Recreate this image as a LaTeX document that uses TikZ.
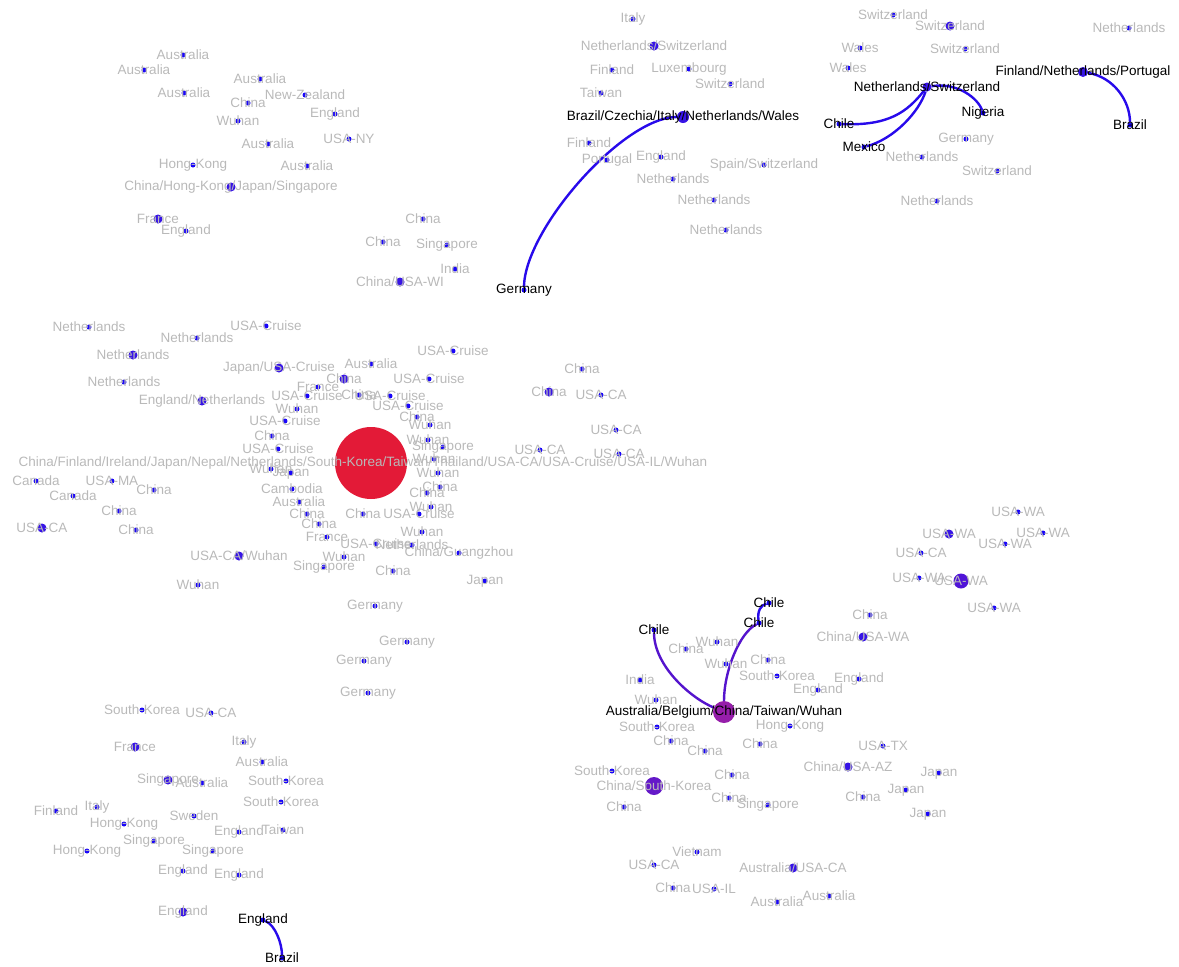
\documentclass[tikz,border=0pt]{standalone}
\usepackage{fontspec}
\setmainfont{Liberation Sans}
\usepackage{tikz}
\usetikzlibrary{backgrounds}

\definecolor{dotblue}{RGB}{25,5,250}
\definecolor{midblue}{RGB}{55,20,230}
\definecolor{hubred}{RGB}{227,26,55}
\definecolor{purpA}{RGB}{150,30,170}
\definecolor{purpB}{RGB}{100,25,200}
\definecolor{purpC}{RGB}{80,20,215}
\definecolor{edgeblue}{RGB}{40,10,235}
\definecolor{edgepurp}{RGB}{85,20,205}
\definecolor{lblgray}{RGB}{185,185,185}

\begin{document}
\begin{tikzpicture}[x=1pt,y=-1pt,
  dot/.style={circle,fill=dotblue,inner sep=0pt,minimum size=5pt},
  mdot/.style={dot,fill=midblue,minimum size=9pt},
  lbl/.style={text=lblgray,font=\fontsize{13.5}{15}\selectfont,inner sep=0pt},
  lbk/.style={lbl,text=black},
  link/.style={edgeblue,line width=2.4pt}]

\useasboundingbox (0,0) rectangle (1179,967);

% single strains
\foreach \x/\y/\t [count=\i] in {
  183/55/Australia, 144/70/Australia, 184/93/Australia, 260/79/Australia,
  248/103/China, 305/95/New-Zealand, 335/114/England, 238/121/Wuhan,
  268/144/Australia, 349/139/USA-NY, 193/165/Hong-Kong, 307/166/Australia,
  186/231/England, 383/242/China, 447/245/Singapore, 423/219/China, 455/269/India,
  633/19/Italy, 612/70/Finland, 689/69/Luxembourg, 730/84/Switzerland,
  601/93/Taiwan, 589/143/Finland, 607/160/Portugal, 661/157/England,
  764/165/{Spain/Switzerland}, 673/179/Netherlands, 714/200/Netherlands,
  726/230/Netherlands,
  893/15/Switzerland, 1129/28/Netherlands, 860/48/Wales, 965/49/Switzerland,
  848/68/Wales, 966/139/Germany, 922/157/Netherlands, 997/171/Switzerland,
  937/201/Netherlands,
  89/327/Netherlands, 197/338/Netherlands, 124/382/Netherlands, 266/326/USA-Cruise,
  36/481/Canada, 112/481/USA-MA, 73/496/Canada, 154/490/China, 119/511/China,
  136/530/China, 198/585/Wuhan,
  371/364/Australia, 453/351/USA-Cruise, 318/387/France, 307/396/USA-Cruise,
  297/409/Wuhan, 359/395/China, 390/396/USA-Cruise, 429/379/USA-Cruise,
  408/406/USA-Cruise, 417/417/China, 430/425/Wuhan, 428/440/Wuhan,
  443/447/Singapore, 434/459/Wuhan, 438/473/Wuhan, 440/487/China, 427/493/China,
  431/507/Wuhan, 419/514/USA-Cruise, 363/514/China, 422/532/Wuhan,
  459/553/{China/Guangzhou}, 393/571/China, 485/581/Japan, 285/421/USA-Cruise,
  272/436/China, 278/449/USA-Cruise, 271/469/Wuhan, 291/473/Japan,
  292/489/Cambodia, 299/502/Australia, 307/514/China, 319/524/China,
  327/537/France, 376/544/USA-Cruise, 412/545/Netherlands, 344/557/Wuhan,
  324/567/Singapore,
  582/369/China, 601/395/USA-CA, 616/430/USA-CA, 540/450/USA-CA, 619/454/USA-CA,
  375/606/Germany, 407/642/Germany, 364/661/Germany, 368/693/Germany,
  142/710/South-Korea, 211/713/USA-CA, 244/742/Italy, 262/762/Australia,
  202/783/Australia, 286/781/South-Korea, 281/802/South-Korea, 56/811/Finland,
  97/807/Italy, 124/824/Hong-Kong, 194/816/Sweden, 239/832/England,
  283/830/Taiwan, 154/841/Singapore, 213/851/Singapore, 87/851/Hong-Kong,
  183/871/England, 239/875/England,
  1018/512/USA-WA, 1043/533/USA-WA, 1005/544/USA-WA, 921/553/USA-CA,
  919/578/USA-WA, 994/608/USA-WA, 870/615/China,
  686/649/China, 717/642/Wuhan, 726/664/Wuhan, 768/660/China,
  777/676/South-Korea, 859/679/England, 818/690/England, 640/680/India,
  656/700/Wuhan, 657/727/South-Korea, 790/726/Hong-Kong, 671/741/China,
  705/751/China, 760/744/China, 883/746/USA-TX, 612/771/South-Korea,
  732/775/China, 939/773/Japan, 906/790/Japan, 863/797/China, 729/798/China,
  768/805/Singapore, 624/807/China, 928/814/Japan, 697/852/Vietnam,
  654/865/USA-CA, 673/888/China, 714/889/USA-IL, 829/896/Australia,
  777/902/Australia}
  \node[dot,label={[lbl]center:\t}] (s\i) at (\x,\y) {};

% small clusters
\foreach \x/\y/\t [count=\i] in {
  231/187/{China/Hong-Kong/Japan/Singapore}, 158/219/France,
  400/282/{China/USA-WI}, 654/46/{Netherlands/Switzerland}, 950/26/Switzerland,
  133/355/Netherlands, 202/401/{England/Netherlands}, 279/368/{Japan/USA-Cruise},
  344/379/China, 42/528/USA-CA, 239/556/{USA-CA/Wuhan}, 549/392/China,
  135/747/France, 168/780/Singapore, 183/912/England, 863/637/{China/USA-WA},
  949/534/USA-WA, 848/767/{China/USA-AZ}, 793/868/{Australia/USA-CA}}
  \node[mdot,label={[lbl]center:\t}] (m\i) at (\x,\y) {};

% large clusters
\node[dot,fill=hubred,minimum size=72pt,label={[lbl,xshift=-8pt]center:China/Finland/Ireland/Japan/Nepal/Netherlands/South-Korea/Taiwan/Thailand/USA-CA/USA-Cruise/USA-IL/Wuhan}] (hub) at (371,463) {};
\node[dot,fill=purpB,minimum size=18pt,label={[lbl]center:China/South-Korea}] (chinask) at (654,786) {};
\node[dot,fill=purpC,minimum size=15pt,label={[lbl]center:USA-WA}] (usawa) at (961,581) {};

% linked clusters
\node[dot,fill=purpA,minimum size=22pt,label={[lbk]center:Australia/Belgium/China/Taiwan/Wuhan}] (abctw) at (724,712) {};
\node[dot,fill=midblue,minimum size=12pt,label={[lbk]center:Brazil/Czechia/Italy/Netherlands/Wales}] (bcinw) at (683,117) {};
\node[mdot,label={[lbk]center:Netherlands/Switzerland}] (ns) at (927,87) {};
\node[mdot,minimum size=10pt,label={[lbk]center:Finland/Netherlands/Portugal}] (fnp) at (1083,72) {};
\node[dot,label={[lbk]center:Germany}] (germany) at (524,290) {};
\node[dot,label={[lbk]center:Chile}] (chile) at (839,124) {};
\node[dot,label={[lbk]center:Mexico}] (mexico) at (864,147) {};
\node[dot,label={[lbk]center:Nigeria}] (nigeria) at (983,113) {};
\node[dot,label={[lbk]center:Brazil}] (brazil) at (1130,125) {};
\node[dot,label={[lbk]center:England}] (englandb) at (263,920) {};
\node[dot,label={[lbk]center:Brazil}] (brazilb) at (282,958) {};
\node[dot,label={[lbk]center:Chile}] (chilea) at (769,603) {};
\node[dot,label={[lbk]center:Chile}] (chileb) at (759,623) {};
\node[dot,label={[lbk]center:Chile}] (chilec) at (654,630) {};

% transmission links
\begin{pgfonlayer}{background}
\draw[link] (germany) .. controls +(0,-60) and +(-60,0) .. (bcinw);
\draw[link] (chile) .. controls +(50,2) and +(-20,25) .. (ns);
\draw[link] (mexico) .. controls +(30,-8) and +(-8,25) .. (ns);
\draw[link] (ns) .. controls +(30,-5) and +(-5,-15) .. (nigeria);
\draw[link] (fnp) .. controls +(30,5) and +(0,-25) .. (brazil);
\draw[link] (englandb) .. controls +(12,5) and +(0,-15) .. (brazilb);
\draw[link,edgepurp] (chilec) .. controls +(0,35) and +(-35,-15) .. (abctw);
\draw[link,edgepurp] (abctw) .. controls +(0,-40) and +(-20,10) .. (chileb);
\draw[link] (chileb) .. controls +(-2,-12) and +(-8,2) .. (chilea);
\end{pgfonlayer}

\end{tikzpicture}
\end{document}
